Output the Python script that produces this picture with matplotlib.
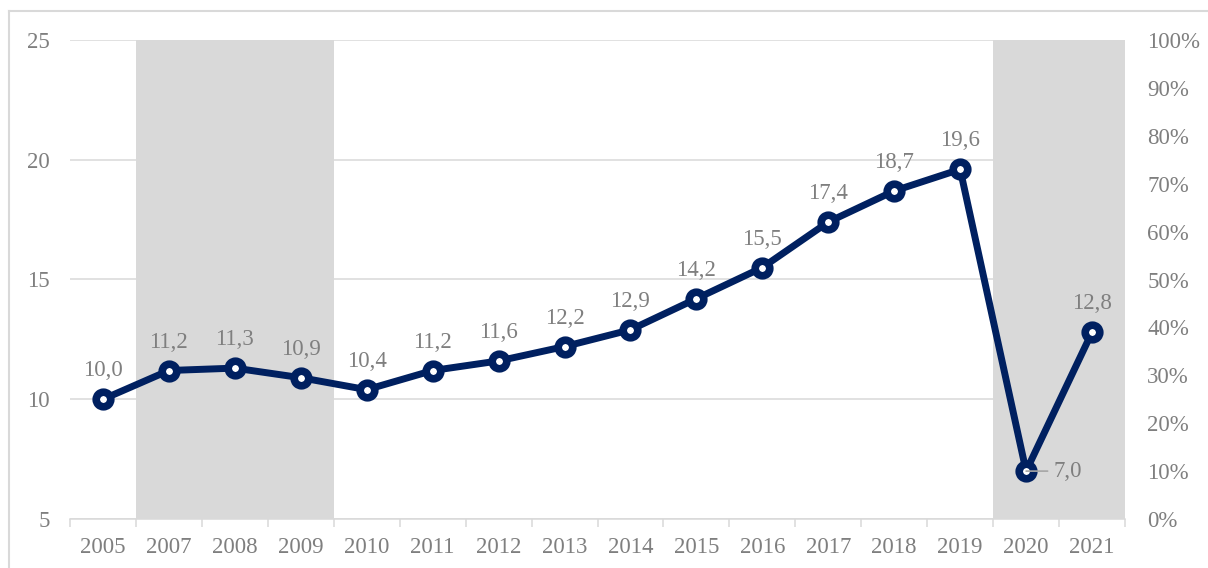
import matplotlib.pyplot as plt
from matplotlib.lines import Line2D
from matplotlib.ticker import FuncFormatter

plt.rcParams['font.family'] = ['Liberation Serif', 'DejaVu Serif']

years = ['2005', '2007', '2008', '2009', '2010', '2011', '2012', '2013',
         '2014', '2015', '2016', '2017', '2018', '2019', '2020', '2021']
values = [10.0, 11.2, 11.3, 10.9, 10.4, 11.2, 11.6, 12.2,
          12.9, 14.2, 15.5, 17.4, 18.7, 19.6, 7.0, 12.8]
# shaded periods, on the secondary (%) axis
shade = [0, 100, 100, 100, 0, 0, 0, 0, 0, 0, 0, 0, 0, 0, 100, 100]

navy = '#002060'
grey_txt = '#7f7f7f'
light = '#d9d9d9'
fs = 16.5

fig = plt.figure(figsize=(12.08, 5.68), dpi=100)
W, H = 1208, 568
ax = fig.add_axes([70 / W, 49 / H, 1055 / W, 479 / H])
ax2 = ax.twinx()

x = list(range(len(years)))

# gray bands, positioned by the % axis but drawn in the main axes under the line
ax.bar(x, shade, width=1.0, color=light, zorder=1, transform=ax2.transData)
ax.plot(x, values, color=navy, lw=5, marker='o', ms=10.5, mew=5.5,
        mfc='white', mec=navy, zorder=3, solid_joinstyle='round')

for i, v in enumerate(values):
    lab = f'{v:.1f}'.replace('.', ',')
    if years[i] == '2020':
        ax.annotate(lab, (i, v), xytext=(19.5, 0), textcoords='offset points',
                    ha='left', va='center', fontsize=fs, color=grey_txt, zorder=5,
                    arrowprops=dict(arrowstyle='-', color='#a6a6a6', lw=1.2,
                                    shrinkA=2, shrinkB=0, relpos=(0, 0.5)))
    else:
        ax.annotate(lab, (i, v), xytext=(0, 20.5), textcoords='offset points',
                    ha='center', va='center', fontsize=fs, color=grey_txt, zorder=5)

ax.set_xlim(-0.5, len(years) - 0.5)
ax.set_ylim(5, 25)
ax.set_yticks([5, 10, 15, 20, 25])
ax2.set_ylim(0, 100)
ax2.set_yticks(range(0, 101, 10))
ax2.yaxis.set_major_formatter(FuncFormatter(lambda v, p: f'{v:.0f}%'))

ax.set_axisbelow(True)
ax.grid(axis='y', color=light, lw=1.1)
ax.set_xticks(x)
ax.set_xticklabels(years)
ax.set_xticks([i - 0.5 for i in range(len(years) + 1)], minor=True)
ax.tick_params(axis='x', which='major', length=0, pad=13, labelsize=fs, labelcolor=grey_txt)
ax.tick_params(axis='x', which='minor', length=6, width=1.1, color=light, direction='out')
ax.tick_params(axis='y', length=0, pad=14.5, labelsize=fs, labelcolor=grey_txt)
ax2.tick_params(axis='y', length=0, pad=16, labelsize=fs, labelcolor=grey_txt)

for a in (ax, ax2):
    for s in ('top', 'left', 'right', 'bottom'):
        a.spines[s].set_visible(False)
ax.spines['bottom'].set_visible(True)
ax.spines['bottom'].set_color(light)
ax.spines['bottom'].set_linewidth(1.1)

# outer chart border
fig.add_artist(Line2D([9 / W, 9 / W], [0, 1 - 11 / H], transform=fig.transFigure, color=light, lw=1.5))
fig.add_artist(Line2D([9 / W, 1], [1 - 11 / H, 1 - 11 / H], transform=fig.transFigure, color=light, lw=1.5))

fig.savefig('out.png', dpi=100)
